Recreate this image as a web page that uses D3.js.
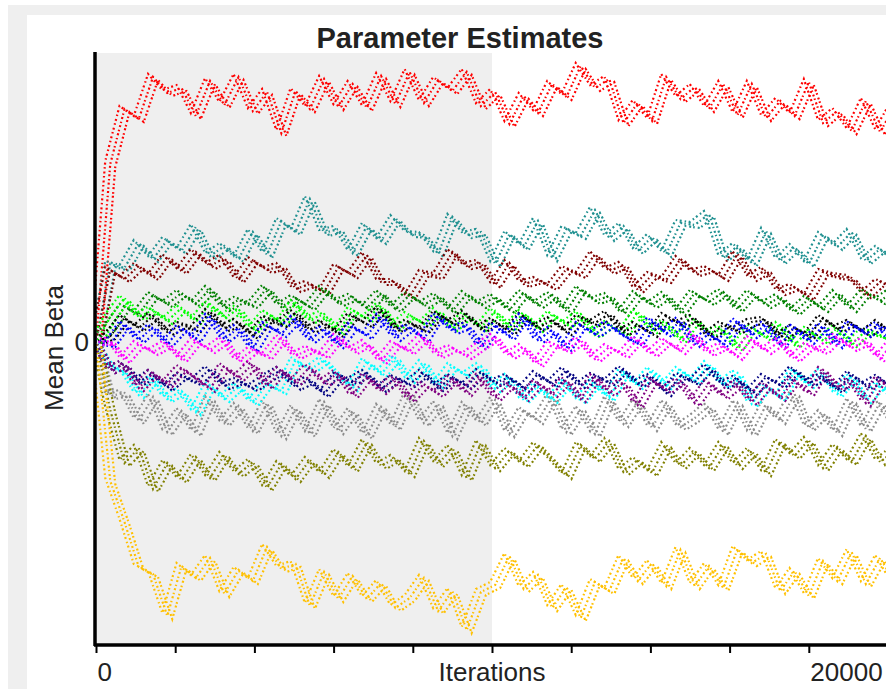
<!DOCTYPE html>
<html>
<head>
<meta charset="utf-8">
<script src="https://cdn.jsdelivr.net/npm/d3@7"></script>
<style>
  html, body { margin: 0; padding: 0; background: #fff; }
  text { font-family: "Liberation Sans", Arial, sans-serif; fill: #222; }
</style>
</head>
<body>
<svg id="chart" width="886" height="689"></svg>
<script>
const iterStep = 400;
const xMax = 22222;
const burnIn = 11111;
const tickStep = 2222.2;
const xTickLabels = ['0', '', '', '', '', '', '', '', '', '20000', ''];
const yTicks = [0];

const red = [0, 1.78, 2.33, 2.23, 2.65, 2.49, 2.54, 2.26, 2.61, 2.37, 2.65, 2.31, 2.50, 2.09, 2.51, 2.33, 2.63, 2.35, 2.58, 2.34, 2.66, 2.38, 2.70, 2.39, 2.62, 2.51, 2.70, 2.36, 2.50, 2.18, 2.46, 2.29, 2.58, 2.45, 2.76, 2.54, 2.63, 2.19, 2.39, 2.21, 2.65, 2.43, 2.55, 2.33, 2.58, 2.27, 2.58, 2.24, 2.41, 2.26, 2.60, 2.19, 2.31, 2.11, 2.41, 2.10, 2.35];
const teal = [0, 0.78, 0.74, 0.99, 0.83, 1.02, 0.91, 1.15, 0.86, 0.96, 0.83, 1.10, 0.87, 1.21, 1.10, 1.43, 1.09, 1.13, 0.89, 1.16, 1.01, 1.24, 1.08, 1.07, 0.88, 1.25, 1.07, 1.10, 0.78, 1.08, 0.95, 1.21, 0.84, 1.13, 1.06, 1.32, 1.04, 1.16, 0.91, 1.05, 0.88, 1.19, 1.17, 1.28, 0.84, 0.96, 0.79, 1.11, 0.81, 0.95, 0.78, 1.07, 0.95, 1.10, 0.81, 0.93, 0.82];
const maroon = [0, 0.72, 0.63, 0.76, 0.65, 0.85, 0.71, 0.90, 0.76, 0.84, 0.62, 0.82, 0.72, 0.76, 0.53, 0.58, 0.50, 0.75, 0.67, 0.87, 0.60, 0.60, 0.45, 0.69, 0.66, 0.90, 0.76, 0.79, 0.57, 0.79, 0.58, 0.62, 0.55, 0.73, 0.67, 0.88, 0.71, 0.77, 0.52, 0.67, 0.62, 0.83, 0.69, 0.73, 0.64, 0.88, 0.64, 0.72, 0.50, 0.55, 0.45, 0.70, 0.66, 0.64, 0.47, 0.60, 0.54];
const green = [0, 0.15, 0.35, 0.28, 0.47, 0.38, 0.49, 0.38, 0.53, 0.34, 0.42, 0.37, 0.54, 0.35, 0.44, 0.35, 0.53, 0.39, 0.45, 0.34, 0.49, 0.33, 0.47, 0.37, 0.46, 0.31, 0.48, 0.37, 0.45, 0.32, 0.49, 0.37, 0.47, 0.31, 0.53, 0.41, 0.46, 0.29, 0.48, 0.37, 0.47, 0.30, 0.49, 0.40, 0.50, 0.33, 0.49, 0.37, 0.45, 0.30, 0.43, 0.33, 0.49, 0.33, 0.50, 0.41, 0.51];
const lime = [0, 0.25, 0.44, 0.25, 0.32, 0.21, 0.34, 0.21, 0.38, 0.24, 0.33, 0.12, 0.29, 0.19, 0.39, 0.22, 0.28, 0.10, 0.32, 0.23, 0.36, 0.15, 0.27, 0.18, 0.31, 0.14, 0.27, 0.14, 0.31, 0.14, 0.29, 0.13, 0.28, 0.17, 0.28, 0.07, 0.18, 0.08, 0.30, 0.12, 0.19, 0.02, 0.23, 0.09, 0.13, -0.06, 0.15, 0.04, 0.17, -0.03, 0.12, 0.01, 0.14, -0.02, 0.11, 0.07, -0.02];
const black = [0, 0.06, 0.24, 0.14, 0.26, 0.10, 0.17, 0.13, 0.30, 0.14, 0.20, 0.06, 0.23, 0.18, 0.29, 0.12, 0.19, 0.08, 0.26, 0.18, 0.32, 0.13, 0.19, 0.12, 0.28, 0.19, 0.28, 0.13, 0.21, 0.10, 0.26, 0.14, 0.22, 0.10, 0.24, 0.19, 0.28, 0.10, 0.17, 0.08, 0.26, 0.18, 0.24, 0.06, 0.17, 0.12, 0.20, 0.22, 0.05, 0.14, 0.06, 0.24, 0.13, 0.19, 0.08, 0.19, 0.06];
const blue = [0, -0.02, 0.18, 0.02, 0.15, -0.02, 0.14, 0.03, 0.25, 0.03, 0.14, -0.07, 0.17, 0.08, 0.23, 0.02, 0.13, -0.03, 0.16, 0.06, 0.25, 0.04, 0.15, 0.03, 0.26, 0.11, 0.17, -0.05, 0.17, 0.05, 0.25, 0.02, 0.12, -0.06, 0.17, 0.08, 0.18, 0.06, -0.01, 0.22, 0.08, 0.21, -0.02, 0.08, -0.02, 0.21, 0.07, 0.17, -0.03, 0.15, 0.01, 0.16, -0.03, 0.18, 0.08, 0.17, -0.04];
const magenta = [0, 0.01, -0.18, -0.02, -0.10, -0.02, -0.17, 0.01, -0.08, 0.02, -0.19, -0.08, -0.14, 0.04, -0.14, -0.07, -0.13, 0.05, -0.09, -0.01, -0.19, -0.02, -0.09, 0.05, -0.13, -0.06, -0.14, -0.04, 0.05, -0.14, -0.05, -0.22, -0.02, -0.08, 0.02, -0.17, -0.05, -0.13, 0.03, -0.12, 0.01, -0.09, 0.07, -0.11, -0.04, -0.15, 0.03, -0.09, 0.01, -0.17, -0.04, -0.09, 0.05, -0.06, 0.01, -0.17, 0.01];
const cyan = [0, -0.24, -0.30, -0.53, -0.37, -0.57, -0.49, -0.70, -0.43, -0.57, -0.44, -0.61, -0.42, -0.49, -0.18, -0.28, -0.18, -0.33, -0.46, -0.19, -0.32, -0.16, -0.38, -0.21, -0.43, -0.24, -0.34, -0.24, -0.47, -0.35, -0.58, -0.44, -0.58, -0.41, -0.59, -0.41, -0.56, -0.30, -0.44, -0.28, -0.44, -0.28, -0.39, -0.22, -0.43, -0.31, -0.62, -0.44, -0.56, -0.29, -0.43, -0.30, -0.52, -0.35, -0.58, -0.43, -0.57];
const navy = [0, -0.28, -0.22, -0.40, -0.31, -0.46, -0.34, -0.40, -0.27, -0.44, -0.39, -0.46, -0.36, -0.28, -0.45, -0.38, -0.52, -0.34, -0.39, -0.31, -0.47, -0.36, -0.42, -0.31, -0.46, -0.35, -0.44, -0.30, -0.41, -0.35, -0.47, -0.32, -0.42, -0.28, -0.44, -0.34, -0.40, -0.27, -0.42, -0.35, -0.51, -0.34, -0.40, -0.25, -0.43, -0.37, -0.50, -0.35, -0.43, -0.27, -0.41, -0.35, -0.48, -0.32, -0.44, -0.36, -0.47];
const purple = [0, -0.28, -0.22, -0.46, -0.31, -0.42, -0.26, -0.36, -0.47, -0.24, -0.36, -0.22, -0.44, -0.28, -0.40, -0.25, -0.41, -0.31, -0.53, -0.34, -0.49, -0.36, -0.57, -0.42, -0.52, -0.37, -0.51, -0.35, -0.56, -0.42, -0.56, -0.41, -0.52, -0.38, -0.57, -0.35, -0.51, -0.40, -0.63, -0.38, -0.48, -0.39, -0.61, -0.41, -0.54, -0.42, -0.60, -0.43, -0.56, -0.38, -0.51, -0.28, -0.45, -0.39, -0.61, -0.37, -0.50];
const gray = [0, -0.54, -0.51, -0.79, -0.55, -0.90, -0.69, -0.91, -0.57, -0.81, -0.64, -0.89, -0.61, -0.94, -0.66, -0.92, -0.60, -0.89, -0.69, -0.94, -0.65, -0.85, -0.52, -0.81, -0.62, -0.94, -0.63, -0.81, -0.58, -0.92, -0.68, -0.79, -0.54, -0.90, -0.67, -0.92, -0.57, -0.82, -0.60, -0.86, -0.61, -0.85, -0.76, -0.64, -0.90, -0.61, -0.91, -0.63, -0.79, -0.52, -0.86, -0.71, -0.91, -0.59, -0.87, -0.60, -0.83];
const olive = [0, -0.68, -1.21, -1.06, -1.47, -1.21, -1.38, -1.15, -1.36, -1.13, -1.32, -1.20, -1.46, -1.22, -1.37, -1.18, -1.33, -1.10, -1.27, -1.00, -1.24, -1.16, -1.32, -0.99, -1.22, -1.06, -1.36, -1.01, -1.26, -1.09, -1.22, -1.03, -1.18, -1.34, -1.03, -1.17, -0.99, -1.30, -1.18, -1.31, -1.03, -1.24, -1.09, -1.26, -1.03, -1.24, -1.09, -1.31, -1.00, -1.14, -0.98, -1.26, -1.05, -1.20, -0.94, -1.20, -1.09];
const gold = [0, -1.39, -1.80, -2.25, -2.32, -2.74, -2.24, -2.36, -2.16, -2.52, -2.28, -2.39, -2.05, -2.27, -2.22, -2.64, -2.30, -2.57, -2.34, -2.57, -2.41, -2.66, -2.56, -2.36, -2.69, -2.49, -2.88, -2.50, -2.43, -2.14, -2.47, -2.33, -2.66, -2.45, -2.76, -2.40, -2.49, -2.16, -2.39, -2.21, -2.44, -2.08, -2.44, -2.24, -2.46, -2.07, -2.21, -2.12, -2.49, -2.29, -2.54, -2.19, -2.39, -2.10, -2.42, -2.16, -2.40];

const seriesNames = ['gray', 'red', 'teal', 'maroon', 'green', 'lime', 'black', 'blue', 'magenta', 'cyan', 'navy', 'purple', 'olive', 'gold'];
const seriesValues = [gray, red, teal, maroon, green, lime, black, blue, magenta, cyan, navy, purple, olive, gold];
const seriesColors = ['#8c8c8c', '#ff0000', '#1f9090', '#800000', '#008000', '#00ff00', '#000000', '#0000ff', '#ff00ff', '#00ffff', '#000080', '#800080', '#808000', '#ffc000'];

const svg = d3.select('#chart');
const margin = { left: 96, top: 53, right: 888, bottom: 645 };

/* window frame */
svg.append('rect').attr('x', 8).attr('y', 5).attr('width', 878).attr('height', 684).attr('fill', '#efefef');
svg.append('rect').attr('x', 27).attr('y', 15).attr('width', 859).attr('height', 674).attr('fill', '#fff');

const x = d3.scaleLinear().domain([0, xMax]).range([margin.left, margin.right]);
const y = d3.scaleLinear().domain([-3.03, 2.89]).range([margin.bottom, margin.top]);

/* burn-in region */
svg.append('rect')
  .attr('x', x(0)).attr('y', margin.top)
  .attr('width', x(burnIn) - x(0)).attr('height', margin.bottom - margin.top)
  .attr('fill', '#efefef');

svg.append('clipPath').attr('id', 'plotclip')
  .append('rect')
  .attr('x', margin.left).attr('y', margin.top)
  .attr('width', margin.right - margin.left).attr('height', margin.bottom - margin.top - 2);

const plot = svg.append('g').attr('clip-path', 'url(#plotclip)');

const line = d3.line()
  .x((d, i) => x(i * iterStep))
  .y((d) => y(d));

// each trace is drawn as a few dotted strands so it reads as a cloud of draws
const strands = [
  { dx: -5, dy: -3, dash: '1.5,2.5,2,3', offset: 0 },
  { dx: 0, dy: 0, dash: '2,2.2,1.4,2.8', offset: 1.7 },
  { dx: 5, dy: 3, dash: '1.6,3,2,2', offset: 3.1 },
];

seriesValues.forEach((vals, k) => {
  const g = plot.append('g').attr('class', `series ${seriesNames[k]}`);
  strands.forEach((s) => {
    g.append('path')
      .datum(vals)
      .attr('d', line)
      .attr('transform', `translate(${s.dx},${s.dy})`)
      .attr('fill', 'none')
      .attr('stroke', seriesColors[k])
      .attr('stroke-width', 2.2)
      .attr('stroke-dasharray', s.dash)
      .attr('stroke-dashoffset', s.offset);
  });
});

/* axes */
const tickValues = xTickLabels.map((t, i) => i * tickStep);
const xAxis = d3.axisBottom(x)
  .tickValues(tickValues)
  .tickSize(8)
  .tickPadding(10)
  .tickFormat((d, i) => xTickLabels[i]);

const gx = svg.append('g').attr('transform', `translate(0,${margin.bottom})`).call(xAxis);
gx.select('.domain').remove();
gx.selectAll('.tick line').attr('stroke', '#000').attr('stroke-width', 2);
gx.selectAll('.tick text')
  .attr('text-anchor', 'start')
  .attr('dx', 1)
  .attr('y', 36)
  .attr('dy', 0)
  .style('font-size', '26px')
  .style('font-family', '"Liberation Sans", Arial, sans-serif')
  .attr('fill', '#222');

svg.append('line')
  .attr('x1', margin.left - 2).attr('x2', margin.right)
  .attr('y1', margin.bottom).attr('y2', margin.bottom)
  .attr('stroke', '#000').attr('stroke-width', 3.5);
svg.append('line')
  .attr('x1', margin.left - 1).attr('x2', margin.left - 1)
  .attr('y1', margin.top - 1).attr('y2', margin.bottom + 1)
  .attr('stroke', '#000').attr('stroke-width', 3.5);

svg.selectAll('.ytick')
  .data(yTicks)
  .join('text')
  .attr('class', 'ytick')
  .attr('x', 89)
  .attr('y', (d) => y(d) + 9)
  .attr('text-anchor', 'end')
  .style('font-size', '26px')
  .text((d) => d);

/* titles */
svg.append('text')
  .attr('x', 460).attr('y', 48)
  .attr('text-anchor', 'middle')
  .style('font-size', '29px')
  .style('font-weight', 'bold')
  .text('Parameter Estimates');

svg.append('text')
  .attr('x', (margin.left + margin.right) / 2).attr('y', 681)
  .attr('text-anchor', 'middle')
  .style('font-size', '26px')
  .text('Iterations');

svg.append('text')
  .attr('transform', 'translate(63,348) rotate(-90)')
  .attr('text-anchor', 'middle')
  .style('font-size', '26px')
  .text('Mean Beta');
</script>
</body>
</html>
